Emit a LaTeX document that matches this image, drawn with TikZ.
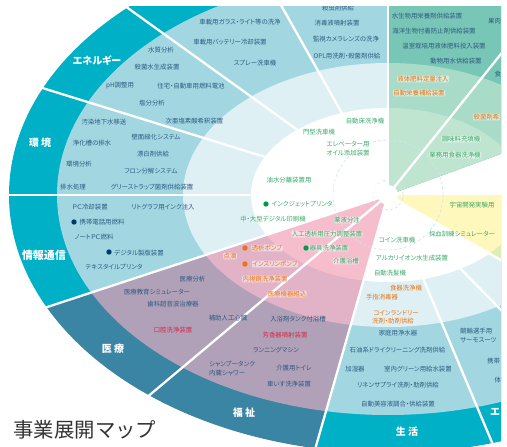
\documentclass[tikz,border=0pt]{standalone}
\usepackage{fontspec}
\setmainfont[RawFeature={+palt}]{Noto Sans CJK JP}
\newfontfamily\ttlfont{Noto Sans CJK JP}
\definecolor{teal}{HTML}{00B0C6}
\definecolor{light}{HTML}{A2D7E2}
\definecolor{pale}{HTML}{DFF0F5}
\definecolor{deep}{HTML}{3A84A4}
\definecolor{mauve}{HTML}{B0A0B8}
\definecolor{rose}{HTML}{E2B2C6}
\definecolor{pink}{HTML}{F6BDCD}
\definecolor{gA}{HTML}{78C6B6}
\definecolor{gB}{HTML}{A8DCC8}
\definecolor{gC}{HTML}{BFE5D0}
\definecolor{yel}{HTML}{FFF8BC}
\definecolor{yelg}{HTML}{DFEEB4}
\definecolor{ink}{HTML}{2F5A80}
\definecolor{grn}{HTML}{3BAA6C}
\definecolor{org}{HTML}{EC7410}
\definecolor{crim}{HTML}{D8294A}
\definecolor{navy}{HTML}{003A70}
\definecolor{dgrn}{HTML}{00994D}
\definecolor{dash}{HTML}{CFE6EA}
\tikzset{
 lb/.style={font=\fontsize{6.4}{7.6}\selectfont,inner sep=0pt,align=center},
 dk/.style={lb,text=ink},
 gr/.style={lb,text=grn},
 rd/.style={lb,text=crim},
 gh/.style={lb,text=grn,fill=white,fill opacity=.5,text opacity=1,rounded corners=1pt,inner sep=.4pt},
 og/.style={lb,text=org,fill=white,fill opacity=.5,text opacity=1,rounded corners=1pt,inner sep=.4pt},
 ogw/.style={lb,text=org},
 bd/.style={inner sep=0pt,text=white,font=\fontsize{10}{12}\selectfont\bfseries},
 dot/.style={circle,inner sep=0pt,minimum size=5.4pt},
 ray/.style={draw=white,line width=2.3pt},
 dring/.style={draw=dash,line width=.7pt,dash pattern=on 3pt off 2.2pt},
}
\newcounter{tn}
\newcommand{\T}[4]{\stepcounter{tn}\node[#1] (t\arabic{tn}) at (#2,#3) {#4};}
\newcommand{\D}[3]{\stepcounter{tn}\node[dot,fill=#1] (t\arabic{tn}) at (#2,#3) {};}
\newcommand{\sect}[6]{\begin{scope}
 \clip (C) -- ([shift={(-#1:1200)}]C) -- ([shift={(-#2:1200)}]C) -- cycle;
 \fill[#3] (C) ellipse [x radius=379pt,y radius=258pt];
 \fill[#4] (C) ellipse [x radius=331pt,y radius=220pt];
 \fill[#5] (C) ellipse [x radius=205pt,y radius=132pt];
 \fill[#6] (C) ellipse [x radius=137pt,y radius=87pt];
\end{scope}}
\begin{document}
\begin{tikzpicture}[x=1pt,y=-1pt]
\useasboundingbox (0,0) rectangle (507,447);
\coordinate (C) at (388,195);
\begin{scope}
\clip (0,6) rectangle (501,447);
\sect{90}{144.3}{teal}{light}{pale}{white}
\sect{144.3}{198.2}{teal}{light}{pale}{white}
\sect{198.2}{254}{deep}{mauve}{rose}{pink}
\sect{254}{293}{teal}{light}{pale}{white}
\sect{293}{330}{teal}{light}{pale}{white}
\sect{20}{90}{gA}{gA}{gB}{gC}
\sect{330}{360}{yelg}{yelg}{yelg}{yel}
\fill[white] (C) circle (10pt);
\draw[dring] (C) circle (15pt);
\draw[dring] (C) circle (55pt);
\foreach \a/\n in {90/a,119.4/b,144.3/c,162.8/d,180/e,198.2/f,220/g,254/h,292.8/i,314.5/j,330/k,51.3/l}
  \draw[ray] (C) -- ([shift={(-\a:900)}]C);
% band labels
\T{bd}{97}{61}{エネルギー}
\T{bd}{40}{143}{環 境}
\T{bd,font=\fontsize{11}{13}\selectfont\bfseries}{44}{255}{情報通信}
\T{bd}{113}{349}{医 療}
\T{bd}{244}{413}{福 祉}
\T{bd}{407}{432}{生 活}
\T{bd,anchor=west}{490}{412}{エ}
\T{lb,text=black!80,font=\ttlfont\fontsize{20.4}{24}\selectfont}{85}{430}{事業展開マップ}
% upper left
\T{dk}{161}{50}{水質分析}
\T{dk}{157}{67}{殺菌水生成装置}
\T{dk}{120}{86}{pH調整用}
\T{dk}{191}{86}{住宅・自動車用燃料電池}
\T{dk}{152}{103}{塩分分析}
\T{dk}{194.5}{121}{次亜塩素酸希釈装置}
\T{dk}{104}{122}{汚染地下水移送}
\T{dk}{156}{137}{壁面緑化システム}
\T{dk}{92}{143}{浄化槽の排水}
\T{dk}{153}{154}{漂白剤供給}
\T{dk}{79}{164}{環境分析}
\T{dk}{151}{171}{フロン分解システム}
\T{dk}{73}{187}{排水処理}
\T{dk}{152}{187}{グリーストラップ菌剤供給装置}
\T{dk}{90}{207}{ＰＣ冷却装置}
\T{dk}{163}{207}{リトグラフ用インク注入}
\D{navy}{74}{222}
\T{dk}{102}{222}{携帯電話用燃料}
\T{dk}{94}{237}{ノートＰＣ燃料}
\D{navy}{109}{252}
\T{dk}{139}{253}{デジタル製版装置}
\T{dk}{114}{267}{テキスタイルプリンタ}
% medical / welfare
\T{dk}{192.5}{279}{医療分析}
\T{dk}{157}{292}{医療教育シミュレーター}
\T{dk}{173}{304}{歯科超音波治療器}
\T{rd}{173}{330}{口腔洗浄装置}
\T{dk}{228}{318}{補助人工心臓}
\T{dk}{298}{319}{入浴剤タンク付浴槽}
\T{rd}{285}{335}{芳香器噴射装置}
\T{dk}{276}{350}{ランニングマシン}
\T{dk,anchor=west}{209}{364}{シャンプータンク}
\T{dk,anchor=west}{209}{373}{内蔵シャワー}
\T{dk}{294}{368}{介護用トイレ}
\T{dk}{289}{384}{車いす洗浄装置}
% centre left
\T{gr}{289}{180}{油水分離装置用}
\D{dgrn}{266}{204}
\T{gr}{302}{204}{インクジェットプリンタ}
\T{gr}{273}{219}{中・大型デジタル印刷機}
\T{gh}{347}{220}{薬液分注}
\T{gh}{327}{234}{人工透析用圧力調整装置}
\D{org}{245}{248}
\T{og}{267}{248}{透析ポンプ}
\T{og}{230}{256}{点滴}
\D{org}{245}{264}
\T{og}{275}{264}{インスリンポンプ}
\D{dgrn}{306}{248}
\T{gh}{329}{248}{器具洗浄装置}
\T{gh}{346}{261}{介護浴槽}
\T{og}{265}{279}{内視鏡洗浄装置}
\T{og}{287}{294}{医療機器組込}
% top
\T{dk}{338}{8.5}{殺虫剤供給}
\T{dk}{337}{23}{消毒液噴射装置}
\T{dk}{346}{39}{監視カメラレンズの洗浄}
\T{dk}{347}{56}{OPL用洗剤・殺菌剤供給}
\T{dk}{240}{22}{車載用ガラス・ライト等の洗浄}
\T{dk}{230}{42}{車載用バッテリー冷却装置}
\T{dk}{255}{63}{スプレー洗車機}
\T{gr}{319}{132}{門型洗車機}
\T{gr}{365}{121}{自動床洗浄機}
\T{gr}{348}{144}{エレベーター用}
\T{gr}{348}{153}{オイル添加装置}
% green
\T{dk}{427}{16}{水生物用栄養剤供給装置}
\T{dk}{434}{31}{海洋生物付着防止剤供給装置}
\T{dk}{444}{46}{温室栽培用液体肥料投入装置}
\T{dk}{456}{61}{動物用水供給装置}
\T{dk,anchor=west}{488}{21}{果肉}
\T{dk,anchor=west}{494.5}{74}{食}
\T{og}{423}{79}{液体肥料定量注入}
\T{og}{419}{93}{自動栄養補給装置}
\T{og,anchor=west}{473}{117}{殺菌剤希}
\T{gh}{461}{139}{調味料充填機}
\T{gh}{455}{155}{業務用食器洗浄機}
\T{gr}{472}{205}{宇宙開発実験用}
\T{gr}{462}{234}{採血訓練シミュレーター}
\T{gr}{397}{240}{コイン洗車機}
\T{gr}{412}{258}{アルカリイオン水生成装置}
\T{gr}{390}{273}{自動洗髪機}
% lower right
\T{ogw}{406}{288}{食器洗浄機}
\T{ogw}{382}{297}{手指消毒器}
\T{ogw}{396}{313}{コインランドリー}
\T{ogw}{393}{321}{洗剤・助剤供給}
\T{dk}{398}{333}{家庭用浄水器}
\T{dk}{397.5}{350}{石油系ドライクリーニング洗剤供給}
\T{dk}{355}{369}{加湿器}
\T{dk}{418}{369}{室内グリーン用給水装置}
\T{dk}{398}{385}{リネンサプライ洗剤・助剤供給}
\T{dk}{398}{404}{自動美容液調合・供給装置}
\T{dk,anchor=west}{460}{331}{競輪選手用}
\T{dk,anchor=west}{460}{340}{サーモスーツ}
\T{dk,anchor=west}{487}{361}{携帯}
\T{dk,anchor=west}{494.5}{380}{体}
\end{scope}
\end{tikzpicture}
\end{document}
